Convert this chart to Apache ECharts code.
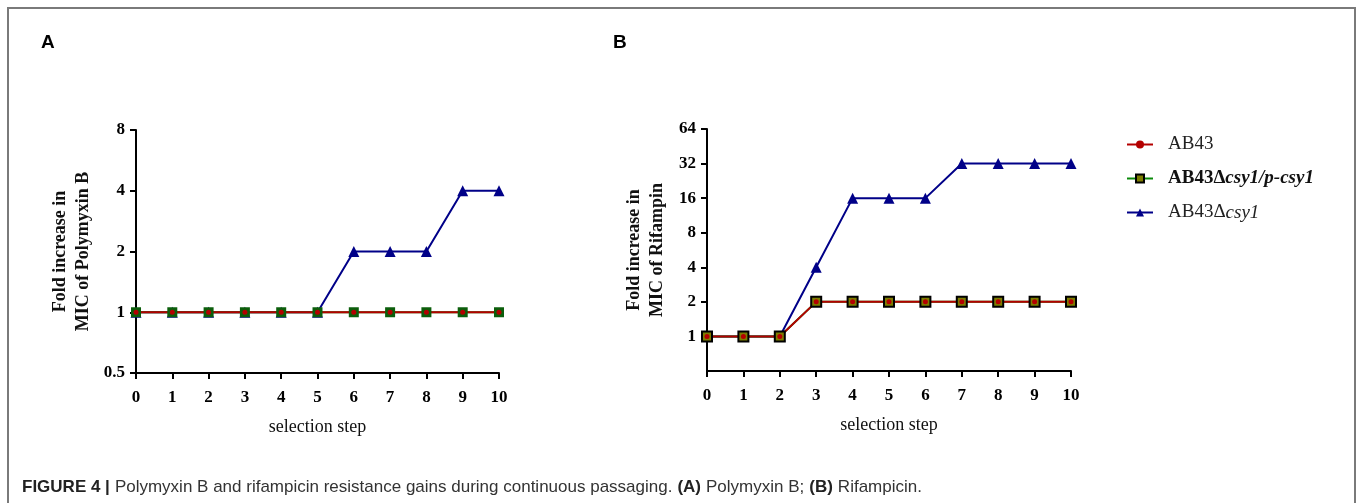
<!DOCTYPE html>
<html>
<head>
<meta charset="utf-8">
<script src="https://cdn.jsdelivr.net/npm/echarts@6/dist/echarts.min.js"></script>
<style>
  html, body { margin: 0; padding: 0; background: #fff; }
  #chart { width: 1357px; height: 503px; }
</style>
</head>
<body>
<div id="chart"></div>
<script>
// selection steps shared by both panels
const steps = ['0', '1', '2', '3', '4', '5', '6', '7', '8', '9', '10']

// (A) Polymyxin B, fold increase in MIC
const polyAB43 = [1, 1, 1, 1, 1, 1, 1, 1, 1, 1, 1]
const polyComp = [1, 1, 1, 1, 1, 1, 1, 1, 1, 1, 1]
const polyDel = [1, 1, 1, 1, 1, 1, 2, 2, 2, 4, 4]

// (B) Rifampicin, fold increase in MIC
const rifAB43 = [1, 1, 1, 2, 2, 2, 2, 2, 2, 2, 2]
const rifComp = [1, 1, 1, 2, 2, 2, 2, 2, 2, 2, 2]
const rifDel = [1, 1, 1, 4, 16, 16, 16, 32, 32, 32, 32]

const rifTicks = [1, 2, 4, 8, 16, 32, 64]

const serif = '"Liberation Serif", "Times New Roman", serif'
const sans = '"Liberation Sans", Arial, sans-serif'
const red = '#b40000'
const navy = '#000088'

function xAxisFor(gridIndex) {
  return {
    type: 'category',
    gridIndex: gridIndex,
    data: steps,
    boundaryGap: false,
    name: 'selection step',
    nameLocation: 'middle',
    nameGap: 45,
    nameTextStyle: { fontFamily: serif, fontSize: 18, color: '#111' },
    axisLine: { lineStyle: { color: '#000', width: 2 } },
    axisTick: { alignWithLabel: true, length: 6, lineStyle: { width: 2, color: '#000' } },
    axisLabel: { margin: 16, fontFamily: serif, fontWeight: 'bold', fontSize: 17, color: '#000' },
    splitLine: { show: false }
  }
}

function yAxisFor(gridIndex, min, max, title, gap) {
  return {
    type: 'log',
    logBase: 2,
    gridIndex: gridIndex,
    min: min,
    max: max,
    name: '{t|' + title.split('\n').join('}\n{t|') + '}',
    nameLocation: 'middle',
    nameRotate: 90,
    nameGap: gap,
    nameTextStyle: {
      fontFamily: serif, fontWeight: 700, fontSize: 18, lineHeight: 23, color: '#111',
      rich: { t: { fontFamily: serif, fontWeight: 700, fontSize: 18, lineHeight: 23, color: '#111' } }
    },
    axisLine: { show: true, lineStyle: { color: '#000', width: 2 } },
    axisTick: { show: true, length: 6, lineStyle: { width: 2, color: '#000' } },
    axisLabel: { margin: 11, fontFamily: serif, fontWeight: 'bold', fontSize: 17, color: '#000' },
    splitLine: { show: false }
  }
}

function lineSeries(name, data, idx, opts) {
  return Object.assign({
    name: name,
    type: 'line',
    xAxisIndex: idx,
    yAxisIndex: idx,
    data: data,
    lineStyle: { width: 2 },
    animation: false
  }, opts)
}

const delStyle = {
  symbol: 'triangle',
  symbolSize: 11,
  itemStyle: { color: navy },
  lineStyle: { width: 2, color: navy }
}
const ab43Style = {
  symbol: 'circle',
  symbolSize: 5,
  itemStyle: { color: red },
  lineStyle: { width: 2, color: red }
}

const option = {
  animation: false,
  backgroundColor: '#fff',
  title: [
    { text: 'A', left: 36, top: 28, textStyle: { fontFamily: sans, fontWeight: 'bold', fontSize: 19, color: '#000' } },
    { text: 'B', left: 608, top: 28, textStyle: { fontFamily: sans, fontWeight: 'bold', fontSize: 19, color: '#000' } },
    {
      text: '{b|FIGURE 4 |} {n|Polymyxin B and rifampicin resistance gains during continuous passaging.} {b|(A)} {n|Polymyxin B;} {b|(B)} {n|Rifampicin.}',
      left: 17,
      top: 473,
      textStyle: {
        fontWeight: 'normal',
        rich: {
          b: { fontFamily: sans, fontWeight: 'bold', fontSize: 17, color: '#222' },
          n: { fontFamily: sans, fontWeight: 'normal', fontSize: 17, color: '#333' }
        }
      }
    }
  ],
  graphic: [
    { type: 'rect', silent: true, shape: { x: 8, y: 8, width: 1347, height: 600 }, style: { fill: 'none', stroke: '#7a7a7a', lineWidth: 2 } }
  ],
  legend: {
    orient: 'vertical',
    left: 1126,
    top: 135,
    padding: 0,
    itemWidth: 26,
    itemHeight: 10,
    itemGap: 15,
    textStyle: {
      fontFamily: serif,
      fontSize: 19,
      color: '#222',
      rich: {
        b: { fontFamily: serif, fontSize: 19, fontWeight: 'bold', color: '#111', padding: [0, 0, 0, 10] },
        bi: { fontFamily: serif, fontSize: 19, fontWeight: 'bold', fontStyle: 'italic', color: '#111' },
        n: { fontFamily: serif, fontSize: 19, color: '#222', padding: [0, 0, 0, 10] },
        i: { fontFamily: serif, fontSize: 19, fontStyle: 'italic', color: '#222' }
      }
    },
    formatter: function (name) {
      if (name === 'AB43Δcsy1/p-csy1') return '{b|AB43Δ}{bi|csy1/p-csy1}'
      if (name === 'AB43Δcsy1') return '{n|AB43Δ}{i|csy1}'
      return '{n|' + name + '}'
    },
    data: [
      'AB43',
      { name: 'AB43Δcsy1/p-csy1', itemStyle: { color: '#7d7d00', borderColor: '#000', borderWidth: 2 } },
      'AB43Δcsy1'
    ]
  },
  grid: [
    { left: 136, right: 1357 - 499, top: 130, bottom: 503 - 373 },
    { left: 707, right: 1357 - 1071, top: 129, bottom: 503 - 371 }
  ],
  xAxis: [xAxisFor(0), xAxisFor(1)],
  yAxis: [
    yAxisFor(0, 0.5, 8, 'Fold increase in\nMIC of Polymyxin B', 41),
    Object.assign(yAxisFor(1, 0.5, 64, 'Fold increase in\nMIC of Rifampin', 38), {
      axisTick: { show: true, length: 6, customValues: rifTicks, lineStyle: { width: 2, color: '#000' } },
      axisLabel: { margin: 11, customValues: rifTicks, fontFamily: serif, fontWeight: 'bold', fontSize: 17, color: '#000' }
    })
  ],
  series: [
    lineSeries('AB43Δcsy1', polyDel, 0, delStyle),
    lineSeries('AB43Δcsy1/p-csy1', polyComp, 0, {
      symbol: 'rect',
      symbolSize: 10,
      itemStyle: { color: '#0b5e0b' },
      lineStyle: { width: 2, color: '#0a8a0a' }
    }),
    lineSeries('AB43', polyAB43, 0, ab43Style),
    lineSeries('AB43Δcsy1', rifDel, 1, delStyle),
    lineSeries('AB43Δcsy1/p-csy1', rifComp, 1, {
      symbol: 'rect',
      symbolSize: 10,
      itemStyle: { color: '#7d7d00', borderColor: '#000', borderWidth: 2 },
      lineStyle: { width: 2, color: '#0a8a0a' }
    }),
    lineSeries('AB43', rifAB43, 1, ab43Style)
  ]
}

const myChart = echarts.init(document.getElementById('chart'), null, { renderer: 'canvas' })
myChart.setOption(option)
</script>
</body>
</html>
